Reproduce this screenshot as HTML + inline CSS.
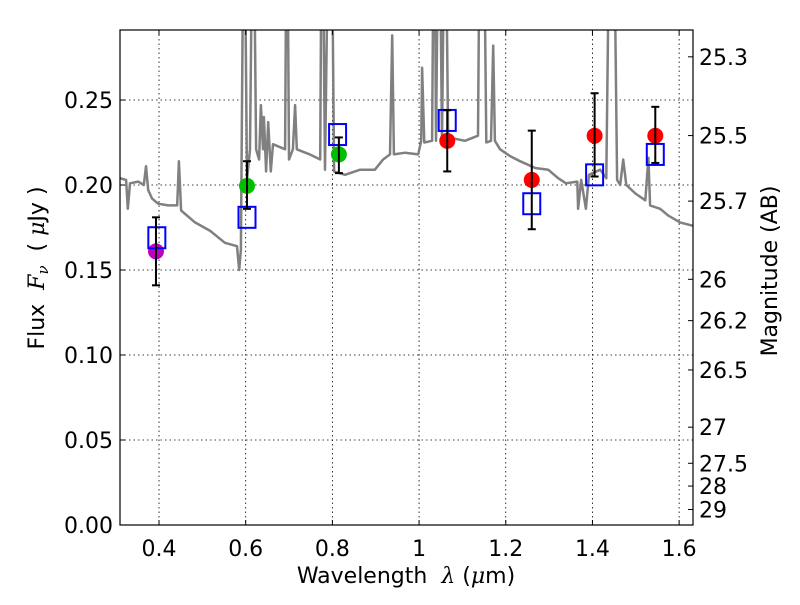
<!DOCTYPE html>
<html><head><meta charset="utf-8"><style>
body{margin:0;background:#fff}
svg text{font-family:"DejaVu Sans","Liberation Sans",sans-serif;fill:#000}
</style></head><body>
<svg id="chart" width="800" height="600" xmlns="http://www.w3.org/2000/svg">
<rect width="800" height="600" fill="#fff"/>
<defs><clipPath id="pc"><rect x="120" y="30" width="573" height="495"/></clipPath></defs>
<g id="grid"></g>
<g id="spec" clip-path="url(#pc)"></g>
<g id="marks"></g>
<rect x="120" y="30" width="573" height="495" fill="none" stroke="#000" stroke-width="1.2"/>
<g id="axes"></g>
<text x="406" y="583" font-size="22" text-anchor="middle" xml:space="preserve">Wavelength  <tspan font-family="DejaVu Serif" font-style="italic">λ</tspan> (<tspan font-family="DejaVu Serif" font-style="italic">μ</tspan>m)</text>
<text transform="translate(44,268) rotate(-90)" font-size="22" text-anchor="middle" xml:space="preserve">Flux  <tspan font-family="DejaVu Serif" font-style="italic">F<tspan font-size="15" dy="4">ν</tspan></tspan><tspan dy="-4">  ( </tspan><tspan font-family="DejaVu Serif" font-style="italic">μ</tspan>Jy )</text>
<text transform="translate(777,271) rotate(-90)" font-size="22" text-anchor="middle">Magnitude (AB)</text>
</svg>
<script>
const specLam=[0.310,0.324,0.328,0.333,0.352,0.365,0.370,0.375,0.384,0.398,0.421,0.442,0.446,0.451,0.483,0.518,0.552,0.580,0.585,0.589,0.596,0.603,0.610,0.617,0.624,0.631,0.635,0.640,0.642,0.647,0.652,0.658,0.663,0.691,0.695,0.700,0.709,0.714,0.718,0.748,0.772,0.776,0.783,0.793,0.797,0.804,0.829,0.864,0.898,0.917,0.933,0.938,0.942,0.968,0.998,1.005,1.007,1.012,1.030,1.035,1.039,1.046,1.053,1.060,1.067,1.106,1.136,1.141,1.148,1.155,1.166,1.171,1.175,1.187,1.210,1.233,1.268,1.298,1.321,1.339,1.365,1.367,1.374,1.385,1.392,1.418,1.432,1.441,1.448,1.457,1.464,1.471,1.478,1.499,1.522,1.529,1.533,1.556,1.575,1.602,1.632];
const specFlux=[0.204,0.203,0.186,0.201,0.202,0.200,0.211,0.197,0.192,0.189,0.188,0.188,0.214,0.185,0.178,0.173,0.166,0.164,0.150,0.162,0.40,0.203,0.221,0.40,0.221,0.215,0.247,0.221,0.240,0.208,0.237,0.208,0.224,0.221,0.40,0.215,0.221,0.247,0.221,0.218,0.215,0.40,0.209,0.40,0.40,0.208,0.206,0.209,0.209,0.215,0.218,0.288,0.218,0.219,0.218,0.226,0.269,0.225,0.226,0.40,0.226,0.40,0.226,0.40,0.228,0.226,0.229,0.40,0.40,0.225,0.226,0.282,0.226,0.221,0.217,0.214,0.210,0.209,0.204,0.201,0.202,0.186,0.203,0.186,0.206,0.209,0.204,0.40,0.40,0.203,0.200,0.215,0.200,0.195,0.191,0.216,0.188,0.186,0.182,0.178,0.176];
const obsLam=[0.393,0.603,0.815,1.065,1.26,1.405,1.545];
const obsFlux=[0.161,0.1995,0.218,0.226,0.203,0.229,0.229];
const obsLo=[0.141,0.186,0.207,0.208,0.174,0.205,0.213];
const obsHi=[0.181,0.214,0.228,0.244,0.232,0.254,0.246];
const obsColor=["#bf00bf","#00bf00","#00bf00","#ff0000","#ff0000","#ff0000","#ff0000"];
const modLam=[0.395,0.603,0.812,1.065,1.26,1.405,1.545];
const modFlux=[0.169,0.181,0.2297,0.238,0.189,0.206,0.218];
const xTicks=[0.4,0.6,0.8,1.0,1.2,1.4,1.6];
const xTickLabels=["0.4","0.6","0.8","1","1.2","1.4","1.6"];
const yTicks=[0,0.05,0.10,0.15,0.20,0.25];
const yTickLabels=["0.00","0.05","0.10","0.15","0.20","0.25"];
const magTicks=[25.3,25.5,25.7,26,26.2,26.5,27,27.5,28,29];
const magLabels=["25.3","25.5","25.7","26","26.2","26.5","27","27.5","28","29"];

const X0=120,X1=693,Y0=525,Y1=30,xmin=0.31,xmax=1.632,ymin=0,ymax=0.2912;
const sx=v=>X0+(v-xmin)/(xmax-xmin)*(X1-X0);
const sy=v=>Y0-(v-ymin)/(ymax-ymin)*(Y0-Y1);
const NS="http://www.w3.org/2000/svg";
function mk(tag,parent,attrs){const e=document.createElementNS(NS,tag);for(const k in attrs)e.setAttribute(k,attrs[k]);parent.appendChild(e);return e;}
const grid=document.getElementById('grid'),axes=document.getElementById('axes'),spec=document.getElementById('spec'),marks=document.getElementById('marks');

xTicks.forEach((t,i)=>{const x=sx(t);
 const g=mk('line',grid,{x1:x,x2:x,y1:Y1,y2:Y0,stroke:'#000','stroke-width':0.8,'stroke-dasharray':'1.5,3'});
 
 
 mk('line',axes,{x1:x,x2:x,y1:Y0,y2:Y0-5,stroke:'#000'});
 mk('line',axes,{x1:x,x2:x,y1:Y1,y2:Y1+5,stroke:'#000'});
 const tx=mk('text',axes,{x:x,y:556,'font-size':22,'text-anchor':'middle'});tx.textContent=xTickLabels[i];
 
 
});
yTicks.forEach((t,i)=>{const y=sy(t);
 if(t>0){const g=mk('line',grid,{x1:X0,x2:X1,y1:y,y2:y,stroke:'#000','stroke-width':0.8,'stroke-dasharray':'1.5,3'});
 
 }
 mk('line',axes,{x1:X0,x2:X0+5,y1:y,y2:y,stroke:'#000'});
 const tx=mk('text',axes,{x:113,y:y+8,'font-size':22,'text-anchor':'end'});tx.textContent=yTickLabels[i];
 
 
});
magTicks.forEach((m,i)=>{const f=Math.pow(10,0.4*(23.9-m));const y=sy(f);
 mk('line',axes,{x1:X1-5,x2:X1,y1:y,y2:y,stroke:'#000'});
 const tx=mk('text',axes,{x:699,y:y+8,'font-size':22});tx.textContent=magLabels[i];
 
 
});
const pts=specLam.map((l,i)=>sx(l).toFixed(1)+','+sy(specFlux[i]).toFixed(1)).join(' ');
const pl=mk('polyline',spec,{points:pts,fill:'none',stroke:'#808080','stroke-width':2.5,'stroke-linejoin':'round'});



obsLam.forEach((l,i)=>{const x=sx(l);
 const c=mk('circle',marks,{cx:x,cy:sy(obsFlux[i]),r:8,fill:obsColor[i]});
 
 
});
modLam.forEach((l,i)=>{const x=sx(l),y=sy(modFlux[i]);
 const r=mk('rect',marks,{x:x-8.5,y:y-10.5,width:17,height:21,fill:'none',stroke:'#0000ff','stroke-width':2});
 
 
});
obsLam.forEach((l,i)=>{const x=sx(l),ya=sy(obsLo[i]),yb=sy(obsHi[i]);
 const g=mk('g',marks,{stroke:'#000','stroke-width':2});
 
 
 mk('line',g,{x1:x,x2:x,y1:ya,y2:yb});
 mk('line',g,{x1:x-4,x2:x+4,y1:ya,y2:ya});
 mk('line',g,{x1:x-4,x2:x+4,y1:yb,y2:yb});
});
</script>
</body></html>
